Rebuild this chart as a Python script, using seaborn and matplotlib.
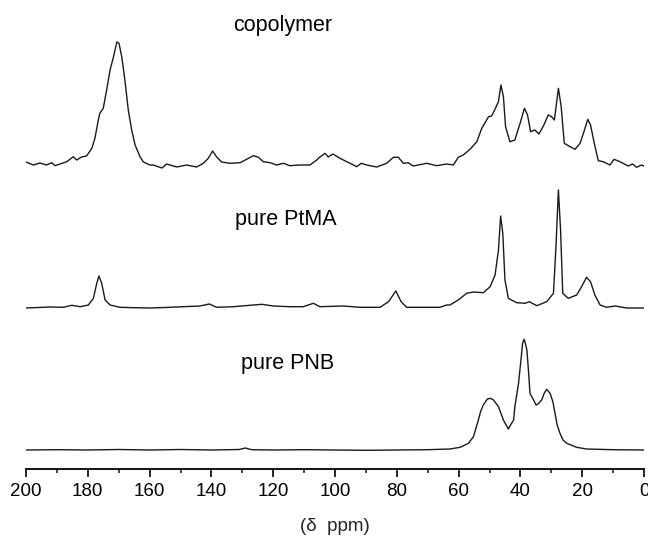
import numpy as np
import pandas as pd
import matplotlib
matplotlib.use("Agg")
import matplotlib.pyplot as plt
from matplotlib.ticker import MultipleLocator
import seaborn as sns

# ---- data (ppm, intensity in arbitrary units) ----
copolymer_ppm = [200, 197.6, 195.5, 193.4, 191.7, 190.6, 189, 186.8, 184.7, 183.6, 182, 180.4,
                 178.7, 177.7, 176.6, 176.1, 175, 173.9, 172.8, 171.7, 170.6, 169.9, 169, 168,
                 166.9, 165.8, 164.7, 163.1, 162, 159.9, 158.8, 156, 154.5, 153.4, 151.2, 148,
                 144.8, 142.6, 141, 139.6, 138.3, 136.7, 134, 130.7, 128, 126.4, 124.8, 123.2,
                 121, 118.9, 116.7, 114.6, 111.3, 108.1, 105.9, 104.9, 103.2, 102.2, 100.7, 98.4,
                 96.2, 94, 93, 91.5, 89.7, 86.5, 83.3, 81.1, 79.5, 77.9, 76.3, 74.7, 70.3, 67.1,
                 63.9, 61.7, 60.1, 58.5, 56.3, 54.1, 52.5, 50.3, 49.3, 48.1, 47.1, 46.3, 45.5,
                 44.8, 43.4, 41.8, 40.1, 38.7, 37.7, 36.7, 35.3, 34, 32.4, 31, 29.9, 29, 27.7,
                 26.8, 25.8, 23.9, 22.3, 20.7, 19.6, 18.2, 17.3, 16.2, 14.8, 13.2, 11, 9.7, 7.8,
                 5.1, 3.7, 2.4, 0.8, 0]
copolymer_int = [3, 0, 2, 0, 2.3, -0.7, 1, 3.3, 8.3, 5, 8, 9,
                 16.7, 26.7, 45, 51.7, 56.7, 75, 95, 108, 123, 121.7, 108, 85,
                 55, 35, 20, 8.3, 3, 0, 0, -3, 1, 0, -2, 0,
                 -2, 1.7, 6.7, 14, 8, 3, 1.7, 2.3, 6.7, 9.3, 7.7, 3.3,
                 2.3, 0, 1.7, -0.7, 0, 0, 5, 8, 11.7, 8, 11, 6.7,
                 3.3, 0, -1.7, 1.7, 0, -2, 1.7, 7.7, 7.7, 1.7, 2.3, -1, 1.7, -0.7,
                 1, 0, 7.7, 10, 15.7, 23.3, 36.7, 48.3, 49, 56.7, 63.3, 80, 68.3,
                 38.3, 23.3, 25, 41.7, 56.7, 50, 33.3, 35, 31, 40, 50, 48.3, 45, 76.7,
                 58.3, 21.7, 18.3, 15.7, 21.7, 31.7, 45.7, 40, 23.3, 4.3, 3.3, 0, 5.7, 3.3,
                 -1, 1, -2.3, 0, -1]

ptma_ppm = [200, 196, 192.2, 187.9, 185.2, 182.5, 179.8, 178.2, 177.1, 176.4, 175.5, 174.4,
            172.8, 169.6, 165, 159.9, 155, 149.1, 143.7, 140.7, 138.3, 132.9, 127.5, 123.7,
            120, 114.6, 110.3, 107, 104.9, 97.3, 91.9, 85.4, 82.7, 80.3, 78.6, 76.8, 69.3,
            66, 63.9, 62.8, 60.1, 57.4, 55.2, 52, 49.8, 48.2, 47.1, 46.4, 45.7, 45, 43.9,
            41.2, 38.5, 37.1, 34.7, 31.5, 29.3, 28.5, 27.7, 27, 26.3, 24.5, 21.8, 20.2,
            18.6, 17.3, 15.9, 14.2, 12.1, 9.4, 5.6, 0]
ptma_int = [0, 0.5, 1, 0.7, 2.7, 1.3, 3, 9.7, 24.7, 32, 24.7, 8,
            3, 0.7, 0.3, 0, 0.5, 1.3, 2, 4, 0.7, 1.3, 2.7, 3.7,
            2, 1.3, 1.3, 4.7, 1.3, 2, 0.7, 0.7, 6.3, 17, 6.3, 0.7, 0.7,
            0.7, 3, 3, 8, 14.7, 16, 15.3, 21.3, 33, 58, 92, 74.7, 28, 9.7,
            5.3, 4.7, 6.3, 2.3, 6.3, 14.7, 61, 118, 78, 14.7, 9.7, 13, 21.3,
            30.7, 26.3, 13, 3, 0.7, 2, 0, 0]

pnb_ppm = [200, 190, 180, 170, 160, 150, 140, 131, 129, 127, 120, 110, 100, 90, 80, 70,
           62.8, 59.5, 56.8, 55.2, 54.4, 53.6, 52.9, 52, 50.7, 49.7, 48.7, 47.1, 45.5,
           43.9, 43.2, 42.2, 41.8, 40.6, 39.5, 39.3, 38.8, 38.4, 37.9, 37.4, 36.9, 34.9,
           34.3, 33.1, 32.3, 31.5, 30.4, 29.5, 28.8, 28.1, 27.2, 26.2, 25, 21.8, 18.6, 10, 0]
pnb_int = [0, 0.3, 0, 0.5, 0, 0.5, 0, 0.5, 2, 0.3, 0, 0.3, 0, -0.3, 0, 0.3,
           1, 2.7, 6.7, 13.3, 21.7, 30, 38.3, 45, 51, 51.7, 50, 43.3, 30,
           21, 25, 30, 43.3, 66.7, 100, 106.7, 110.7, 106.7, 100, 80, 56.7, 45,
           46, 50, 56.7, 60.7, 56.7, 48.3, 36.7, 25, 16.7, 10, 6.7, 2.7, 1, 0.3, 0]

labels = ["copolymer", "pure PtMA", "pure PNB"]
tick_values = list(range(0, 201, 20))
xlabel = "(\u03b4  ppm)"

# ---- figure ----
sns.set_style("ticks")
plt.rcParams["font.family"] = ["Liberation Sans", "DejaVu Sans"]

fig = plt.figure(figsize=(6.48, 5.36), dpi=100)
ax = fig.add_axes([26 / 648, 67 / 536, 618 / 648, 469 / 536])

offsets = [304, 161, 19]
series = [(copolymer_ppm, copolymer_int), (ptma_ppm, ptma_int), (pnb_ppm, pnb_int)]
for (px, py), off in zip(series, offsets):
    df = pd.DataFrame({"ppm": px, "y": np.asarray(py) + off})
    sns.lineplot(data=df, x="ppm", y="y", ax=ax, color="#1a1a1a", lw=1.0,
                 sort=False, estimator=None)

label_pos = [(116.8, 444), (115.9, 250), (115.2, 106)]
for lab, (lx, ly) in zip(labels, label_pos):
    ax.text(lx, ly, lab, ha="center", va="center", fontsize=15.5, color="black")

ax.set_xlim(200, 0)
ax.set_ylim(0, 469)
ax.set_xticks(tick_values)
ax.xaxis.set_minor_locator(MultipleLocator(10))
ax.set_yticks([])
ax.set_ylabel("")
ax.set_xlabel(xlabel, fontsize=13.5, labelpad=13)
ax.tick_params(axis="x", which="major", direction="out", length=6, width=1.2,
               labelsize=13.5, pad=4, colors="black")
ax.tick_params(axis="x", which="minor", direction="out", length=3, width=1.2)
for s in ["left", "right", "top"]:
    ax.spines[s].set_visible(False)
ax.spines["bottom"].set_linewidth(1.3)
ax.spines["bottom"].set_color("black")
ax.patch.set_alpha(0)

fig.savefig("out.png", dpi=100)
